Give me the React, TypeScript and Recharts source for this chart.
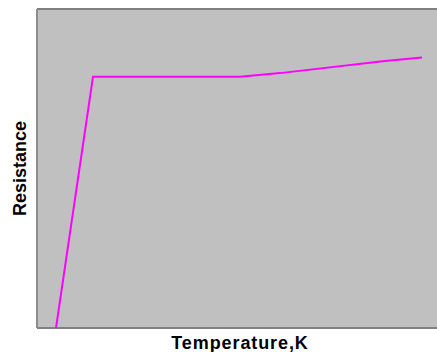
import React from 'react';
import { LineChart, Line, XAxis, YAxis, CartesianGrid, ReferenceLine } from 'recharts';

// temperature (arbitrary units, axis has no ticks) and resistance readings
const temperatures = [19, 56, 203, 243, 348, 385];
const resistances = [0, 78.8, 78.8, 79.9, 83.7, 84.8];

const X_DOMAIN = [0, 400];
const Y_DOMAIN = [0, 100];

const data = temperatures.map((t, i) => ({ t, r: resistances[i] }));

const labelStyle = {
    fontFamily: 'Arial, "Liberation Sans", sans-serif',
    fontWeight: 'bold',
    fontSize: 18,
    fill: '#000',
};

const App: React.FC = () => {
    return (
        <div style={{ position: 'absolute', left: 0, top: 0 }}>
            <LineChart
                width={437}
                height={352}
                data={data}
                margin={{ top: 9, right: 0, bottom: 0, left: 0 }}
            >
                <CartesianGrid fill="#c0c0c0" horizontal={false} vertical={false} stroke="none" />
                <XAxis
                    dataKey="t"
                    type="number"
                    domain={X_DOMAIN}
                    tick={false}
                    tickLine={false}
                    axisLine={false}
                    height={24}
                    label={{
                        value: 'Temperature,K',
                        position: 'center',
                        dx: 3,
                        dy: 3,
                        style: { ...labelStyle, letterSpacing: 0.9 },
                    }}
                />
                <YAxis
                    type="number"
                    domain={Y_DOMAIN}
                    tick={false}
                    tickLine={false}
                    axisLine={false}
                    width={37}
                    label={{ value: 'Resistance', position: 'center', angle: -90, dx: 1, style: labelStyle }}
                />
                <ReferenceLine y={Y_DOMAIN[1]} stroke="#808080" strokeWidth={2} />
                <ReferenceLine y={Y_DOMAIN[0]} stroke="#808080" strokeWidth={2} />
                <ReferenceLine x={X_DOMAIN[0]} stroke="#8c8c8c" strokeWidth={2} />
                <Line
                    type="linear"
                    dataKey="r"
                    stroke="#ff00ff"
                    strokeWidth={2}
                    dot={false}
                    isAnimationActive={false}
                />
            </LineChart>
        </div>
    );
};

export default App;
